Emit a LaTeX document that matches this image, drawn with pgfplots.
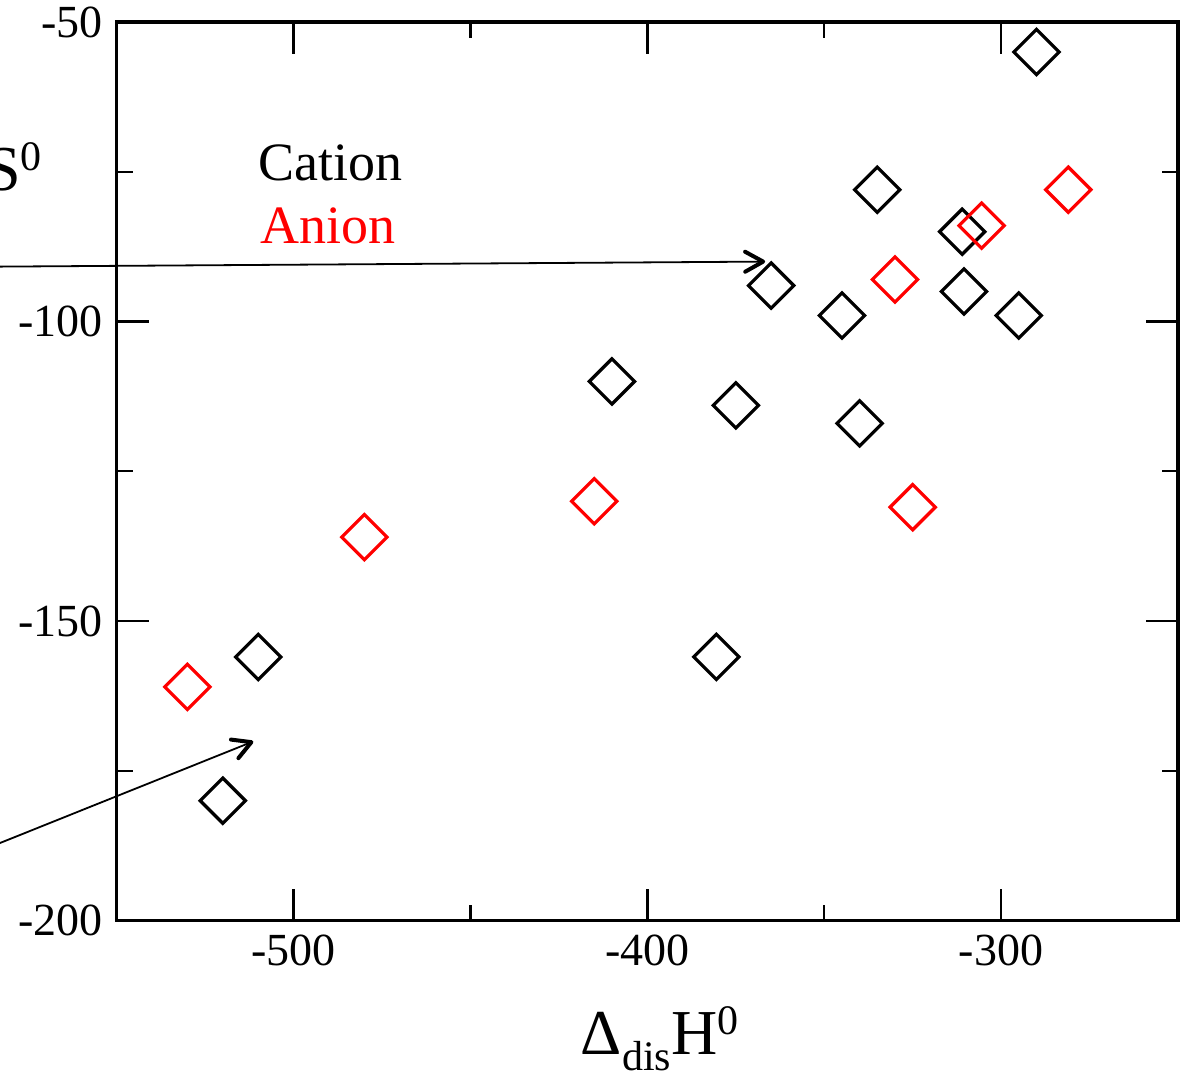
\documentclass[border=0pt]{standalone}
\usepackage{pgfplots}
\pgfplotsset{compat=1.18}
\usepackage{fontspec}
\setmainfont{Liberation Serif}
\usetikzlibrary{arrows.meta}

\pgfplotstableread{
x y
-290 -55
-335 -78
-311 -85
-365 -94
-345 -99
-310.5 -95
-295 -99
-410 -110
-375 -114
-340 -117
-380.5 -156
-510 -156
-520 -180
}\cation

\pgfplotstableread{
x y
-281 -78
-305.5 -84
-330 -93
-415 -130
-325 -131
-480 -136
-530 -161
}\anion

\begin{document}
\begin{tikzpicture}
\useasboundingbox (-29.175pt,-37.875pt) rectangle (267.325pt,230.125pt);
\clip (-29.175pt,-37.875pt) rectangle (267.325pt,230.125pt);
\begin{axis}[
 scale only axis, width=265.325pt, height=224.625pt,
 xmin=-550, xmax=-250, ymin=-200, ymax=-50,
 xtick={-500,-400,-300}, xticklabels={-500,-400,-300},
 minor xtick={-450,-350},
 ytick={-200,-150,-100,-50}, yticklabels={-200,-150,-100,-50},
 minor ytick={-175,-125,-75},
 tick pos=both, ticklabel pos=left, tick align=inside,
 major tick length=8pt, minor tick length=4pt,
 every tick/.style={black, line width=0.6pt},
 axis line style={line width=0.9pt},
 ticklabel style={font=\fontsize{11.5}{13}\selectfont},
 clip=false,
]
\addplot[only marks, mark=square, mark size=4pt, mark options={rotate=45, line width=0.8pt, draw=black}] table[x=x,y=y] {\cation};
\addplot[only marks, mark=square, mark size=4pt, mark options={rotate=45, line width=0.8pt, draw=red}] table[x=x,y=y] {\anion};

\draw[line width=0.45pt, -{Straight Barb[length=4.5pt,width=5pt,line width=1pt,round]}] (axis cs:-625,-91) -- (axis cs:-366.7,-90);
\draw[line width=0.45pt, -{Straight Barb[length=4.5pt,width=5pt,line width=1pt,round]}] (axis cs:-611,-193.7) -- (axis cs:-511.4,-170.1);

\node[anchor=base west, inner sep=0, font=\fontsize{13.5}{16}\selectfont] at (axis cs:-510.1,-76.4) {Cation};
\node[anchor=base west, inner sep=0, font=\fontsize{13.5}{16}\selectfont, text=red] at (axis cs:-509.5,-86.9) {Anion};

\node[anchor=base west, inner sep=0] at (axis cs:-419,-222.3) {\fontsize{16}{19}\selectfont Δ\raisebox{-4pt}{\fontsize{10.5}{12}\selectfont dis}H\raisebox{4.8pt}{\fontsize{10.5}{12}\selectfont 0}};
\node[anchor=base east, inner sep=0] at (axis cs:-571,-78.05) {\fontsize{16}{19}\selectfont Δ\raisebox{-4pt}{\fontsize{10.5}{12}\selectfont dis}S\raisebox{4.8pt}{\fontsize{10.5}{12}\selectfont 0}};
\end{axis}
\end{tikzpicture}
\end{document}
